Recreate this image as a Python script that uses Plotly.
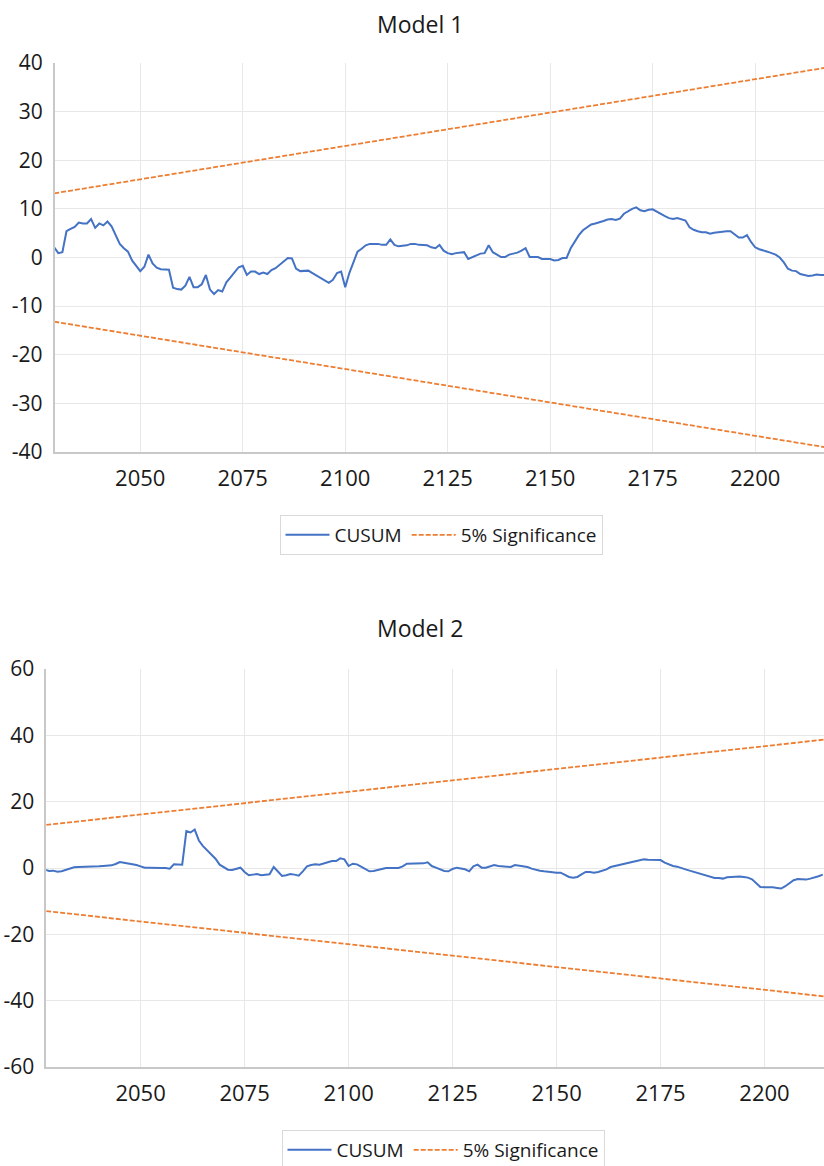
import plotly.graph_objects as go

# ---------------- Model 1 data ----------------
m1_start_year = 2029
m1_cusum = [
    2.1, 0.9, 1.1, 5.4, 5.9, 6.3, 7.2, 7.0, 7.0, 7.9,   # 2029-2038
    6.1, 7.0, 6.6, 7.4, 6.4, 4.6, 2.8, 1.9, 1.2, -0.6,  # 2039-2048
    -1.7, -2.8, -1.9, 0.6, -1.2, -2.1, -2.4, -2.4, -2.5, -6.2,  # 2049-2058
    -6.5, -6.6, -5.8, -4.0, -6.1, -6.1, -5.5, -3.6, -6.6, -7.5,  # 2059-2068
    -6.7, -7.0, -5.1, -4.1, -3.0, -2.0, -1.7, -3.6, -2.9, -2.9,  # 2069-2078
    -3.4, -3.1, -3.4, -2.6, -2.2, -1.5, -0.7, -0.1, -0.2, -2.3,  # 2079-2088
    -2.8, -2.7, -2.7, -3.2, -3.7, -4.3, -4.8, -5.2, -4.6, -3.2,  # 2089-2098
    -2.9, -6.1, -3.2, -0.8, 1.2, 1.8, 2.5, 2.8, 2.8, 2.8,  # 2099-2108
    2.6, 2.6, 3.7, 2.6, 2.3, 2.4, 2.5, 2.8, 2.8, 2.6,  # 2109-2118
    2.6, 2.5, 2.1, 1.9, 2.6, 1.4, 0.9, 0.7, 0.9, 1.0,  # 2119-2128
    1.1, -0.3, 0.1, 0.5, 0.8, 0.9, 2.5, 1.1, 0.6, 0.1,  # 2129-2138
    0.1, 0.6, 0.8, 1.0, 1.4, 1.9, 0.1, 0.1, 0.1, -0.3,  # 2139-2148
    -0.3, -0.3, -0.6, -0.5, -0.1, -0.1, 1.9, 3.4, 4.6, 5.6,  # 2149-2158
    6.3, 6.8, 7.0, 7.2, 7.5, 7.8, 7.9, 7.7, 8.0, 9.0,  # 2159-2168
    9.5, 10.0, 10.3, 9.7, 9.5, 9.8, 9.9, 9.4, 9.0, 8.5,  # 2169-2178
    8.1, 7.9, 8.1, 7.8, 7.6, 6.2, 5.7, 5.4, 5.2, 5.2,  # 2179-2188
    4.9, 5.1, 5.2, 5.4, 5.4, 5.4, 4.8, 4.1, 4.1, 4.6,  # 2189-2198
    3.2, 2.1, 1.7, 1.5, 1.2, 0.9, 0.6, 0.0, -1.0, -2.3,  # 2199-2208
    -2.7, -2.8, -3.4, -3.6, -3.8, -3.7, -3.5, -3.6, -3.6,  # 2209-2217
]
m1_years = list(range(m1_start_year, m1_start_year + len(m1_cusum)))
m1_sig_years = [2029, 2217]
m1_sig_upper = [13.2, 39.0]
m1_sig_lower = [-13.2, -39.0]

# ---------------- Model 2 data ----------------
m2_start_year = 2027
m2_cusum = [
    -0.5, -0.9, -0.8, -1.1, -1.0, -0.6, -0.2, 0.2, 0.3, 0.3,  # 2027-2036
    0.4, 0.4, 0.4, 0.5, 0.6, 0.6, 0.8, 1.2, 1.8, 1.6,  # 2037-2046
    1.4, 1.2, 0.9, 0.5, 0.1, 0.1, 0.0, 0.0, 0.0, 0.0,  # 2047-2056
    -0.2, 1.1, 1.0, 1.0, 11.1, 10.7, 11.6, 8.3, 6.6, 5.3,  # 2057-2066
    4.3, 2.8, 1.0, 0.2, -0.5, -0.6, -0.2, 0.1, -1.2, -2.2,  # 2067-2076
    -2.0, -1.8, -2.2, -2.1, -1.9, 0.3, -1.2, -2.4, -2.2, -1.8,  # 2077-2086
    -2.0, -2.3, -1.0, 0.5, 0.9, 1.1, 1.0, 1.4, 1.8, 2.1,  # 2087-2096
    2.1, 2.9, 2.6, 0.6, 1.3, 1.1, 0.4, -0.4, -1.0, -0.9,  # 2097-2106
    -0.5, -0.3, 0.0, 0.1, 0.0, 0.0, 0.5, 1.3, 1.3, 1.3,  # 2107-2116
    1.4, 1.4, 1.7, 0.6, 0.1, -0.3, -0.9, -1.0, -0.3, 0.1,  # 2117-2126
    -0.1, -0.4, -1.0, 0.5, 1.0, 0.1, 0.1, 0.6, 0.9, 0.6,  # 2127-2136
    0.5, 0.4, 0.3, 0.9, 0.7, 0.6, 0.3, -0.2, -0.6, -0.8,  # 2137-2146
    -1.0, -1.2, -1.4, -1.4, -1.4, -2.0, -2.7, -2.9, -2.7, -1.9,  # 2147-2156
    -1.2, -1.2, -1.4, -1.2, -0.9, -0.4, 0.3, 0.6, 0.8, 1.1,  # 2157-2166
    1.5, 1.6, 2.0, 2.3, 2.6, 2.5, 2.4, 2.3, 2.4, 1.6,  # 2167-2176
    1.0, 0.6, 0.4, 0.1, -0.4, -0.8, -1.2, -1.6, -1.9, -2.2,  # 2177-2186
    -2.7, -3.0, -3.0, -3.2, -2.8, -2.7, -2.6, -2.6, -2.7, -2.9,  # 2187-2196
    -3.4, -4.7, -5.7, -5.8, -5.7, -5.8, -6.0, -6.2, -5.5, -4.5,  # 2197-2206
    -3.7, -3.3, -3.3, -3.5, -3.2, -2.9, -2.5, -2.0,  # 2207-2214
]
m2_years = list(range(m2_start_year, m2_start_year + len(m2_cusum)))
m2_sig_years = [2027.3, 2214.3]
m2_sig_upper = [13.0, 38.7]
m2_sig_lower = [-13.0, -38.7]

x_ticks = [2050, 2075, 2100, 2125, 2150, 2175, 2200]
m1_y_ticks = [-40, -30, -20, -10, 0, 10, 20, 30, 40]
m1_y_labels = ["-40", "-30", "-20", "-10", "0", "10", "20", "30", "40"]
m2_y_ticks = [-60, -40, -20, 0, 20, 40, 60]
m2_y_labels = ["-60", "-40", "-20", "0", "20", "40", "60"]

BLUE = "#4472C4"
ORANGE = "#ED7D31"
FONT = "Open Sans"
TXT = "#1a1a1a"
GRID = "#e8e8e8"
AXIS = "#c8c8c8"

W, H = 824, 1166


def band(xs, up, lo):
    return xs + [None] + xs, up + [None] + lo


fig = go.Figure()

fig.add_trace(go.Scatter(x=m1_years, y=m1_cusum, mode="lines", name="CUSUM",
                         line=dict(color=BLUE, width=2), xaxis="x", yaxis="y",
                         legend="legend"))
bx, by = band(m1_sig_years, m1_sig_upper, m1_sig_lower)
fig.add_trace(go.Scatter(x=bx, y=by, mode="lines", name="5% Significance",
                         line=dict(color=ORANGE, width=1.8, dash="5px,2px"),
                         xaxis="x", yaxis="y", legend="legend"))

fig.add_trace(go.Scatter(x=m2_years, y=m2_cusum, mode="lines", name="CUSUM",
                         line=dict(color=BLUE, width=2), xaxis="x2", yaxis="y2",
                         legend="legend2"))
bx2, by2 = band(m2_sig_years, m2_sig_upper, m2_sig_lower)
fig.add_trace(go.Scatter(x=bx2, y=by2, mode="lines", name="5% Significance",
                         line=dict(color=ORANGE, width=1.8, dash="5px,2px"),
                         xaxis="x2", yaxis="y2", legend="legend2"))

common_x = dict(tickvals=x_ticks, showgrid=True, gridcolor=GRID, gridwidth=1,
                showline=True, linecolor=AXIS, linewidth=1.5, zeroline=False,
                ticks="", tickfont=dict(family=FONT, size=22, color=TXT),
                ticklabelstandoff=6)
common_y = dict(showgrid=True, gridcolor=GRID, gridwidth=1, showline=True,
                linecolor=AXIS, linewidth=1.5, zeroline=False, ticks="",
                tickfont=dict(family=FONT, size=21, color=TXT),
                ticklabelstandoff=6)

legend_style = dict(orientation="h", bordercolor="#d9d9d9", borderwidth=1,
                    bgcolor="white", font=dict(family=FONT, size=19, color=TXT),
                    itemwidth=44, xanchor="center", yanchor="middle")

fig.update_layout(
    width=W, height=H,
    margin=dict(l=0, r=0, t=0, b=0, autoexpand=False),
    paper_bgcolor="white", plot_bgcolor="white",
    font=dict(family=FONT, color=TXT),
    xaxis=dict(domain=[54.6 / W, 1], range=[2029.1, 2216.8], anchor="y", **common_x),
    yaxis=dict(domain=[1 - 452 / H, 1 - 63 / H], range=[-40, 40], tickvals=m1_y_ticks,
               ticktext=m1_y_labels, anchor="x", **common_y),
    xaxis2=dict(domain=[46.2 / W, 1], range=[2027.3, 2214.3], anchor="y2", **common_x),
    yaxis2=dict(domain=[1 - 1067 / H, 1 - 669 / H], range=[-60, 60], tickvals=m2_y_ticks,
                ticktext=m2_y_labels, anchor="x2", **common_y),
    legend=dict(x=441 / W, y=1 - 535 / H, **legend_style),
    legend2=dict(x=443 / W, y=1 - 1150 / H, **legend_style),
    showlegend=True,
    annotations=[
        dict(text="Model 1", x=420 / W, y=1 - 24 / H, xref="paper", yref="paper",
             showarrow=False, xanchor="center", yanchor="middle",
             font=dict(family=FONT, size=23, color=TXT)),
        dict(text="Model 2", x=420 / W, y=1 - 628 / H, xref="paper", yref="paper",
             showarrow=False, xanchor="center", yanchor="middle",
             font=dict(family=FONT, size=23, color=TXT)),
    ],
)

fig.write_html("out.html", config={"displayModeBar": False},
               post_script="document.body.style.margin='0';document.body.style.overflow='hidden';")
